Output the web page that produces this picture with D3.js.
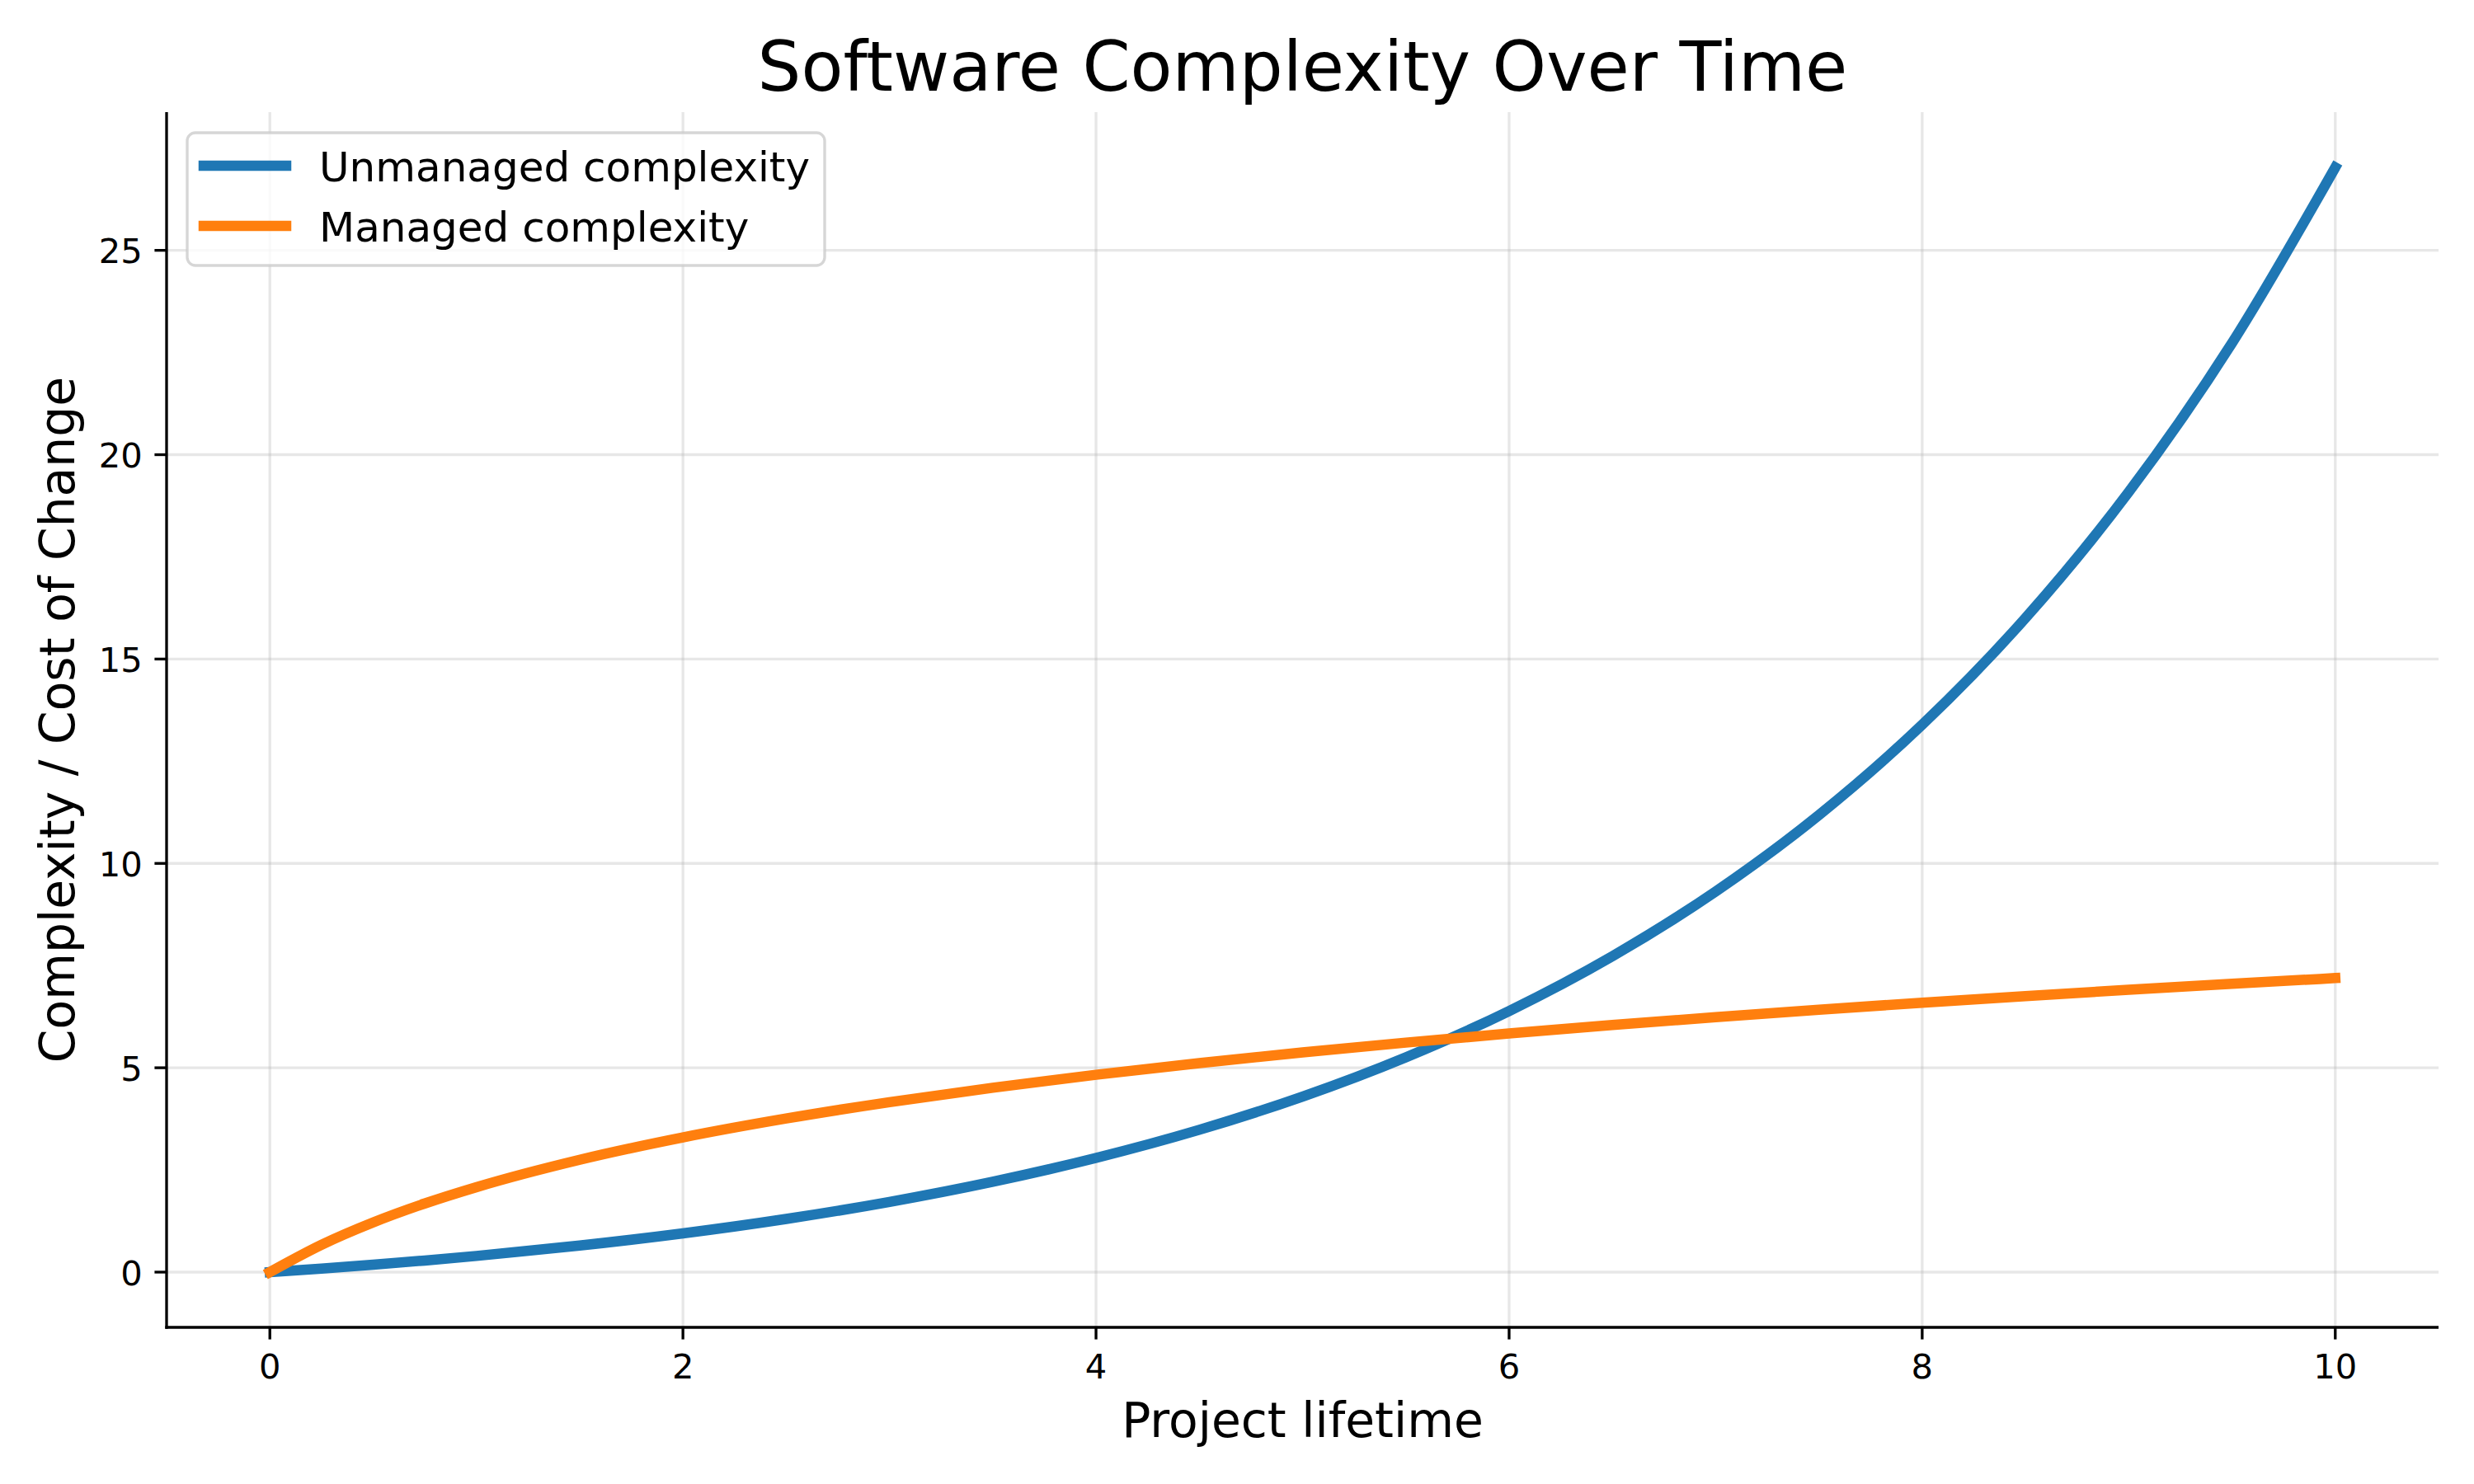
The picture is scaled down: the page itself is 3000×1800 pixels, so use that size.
<!DOCTYPE html>
<html>
<head>
<meta charset="utf-8">
<script src="https://cdn.jsdelivr.net/npm/d3@7/dist/d3.min.js"></script>
<style>
  html, body { margin: 0; padding: 0; background: #ffffff; }
  svg { display: block; }
  text { font-family: "DejaVu Sans", sans-serif; fill: #000; }
</style>
</head>
<body>
<svg id="chart" width="3000" height="1800"></svg>
<script>
// ---- data ----
const lifetime = [0, 0.25, 0.5, 0.75, 1, 1.5, 2, 2.5, 3, 3.5, 4, 4.5, 5, 5.5, 6, 6.5, 7, 7.5, 8, 8.5, 9, 9.5, 10];
const unmanaged = [0, 0.087, 0.181, 0.284, 0.396, 0.649, 0.948, 1.301, 1.718, 2.211, 2.794, 3.482, 4.294, 5.255, 6.389, 7.729, 9.312, 11.182, 13.392, 16.003, 19.086, 22.73, 27.03];
const managed = [0, 0.669, 1.216, 1.679, 2.079, 2.749, 3.296, 3.758, 4.159, 4.512, 4.828, 5.114, 5.375, 5.615, 5.838, 6.045, 6.238, 6.420, 6.592, 6.754, 6.908, 7.054, 7.194];
const seriesNames = ["Unmanaged complexity", "Managed complexity"];
const seriesColors = ["#1f77b4", "#ff7f0e"];
const xTicks = [0, 2, 4, 6, 8, 10];
const yTicks = [0, 5, 10, 15, 20, 25];
const titleText = "Software Complexity Over Time";
const xLabelText = "Project lifetime";
const yLabelText = "Complexity / Cost of Change";

// ---- layout ----
const svg = d3.select("#chart");
const L = 202, R = 2957, T = 136, B = 1610;
const x = d3.scaleLinear().domain([-0.5, 10.5]).range([L, R]);
const yMax = d3.max(unmanaged);
const pad = yMax * 0.05;
const y = d3.scaleLinear().domain([-pad, yMax + pad]).range([B, T]);

const lw = 3.33;   // 0.8pt at 300dpi
const tickLen = 14.6;

// grid
const grid = svg.append("g");
grid.selectAll("line.gx").data(xTicks).join("line")
  .attr("x1", d => x(d)).attr("x2", d => x(d))
  .attr("y1", T).attr("y2", B)
  .attr("stroke", "#b0b0b0").attr("stroke-opacity", 0.3).attr("stroke-width", lw);
grid.selectAll("line.gy").data(yTicks).join("line")
  .attr("x1", L).attr("x2", R)
  .attr("y1", d => y(d)).attr("y2", d => y(d))
  .attr("stroke", "#b0b0b0").attr("stroke-opacity", 0.3).attr("stroke-width", lw);

// lines
const series = [unmanaged, managed];
const clip = svg.append("clipPath").attr("id", "clip").append("rect")
  .attr("x", L).attr("y", T).attr("width", R - L).attr("height", B - T);
const line = d3.line().x((d, i) => x(lifetime[i])).y(d => y(d)).curve(d3.curveMonotoneX);
svg.append("g").attr("clip-path", "url(#clip)")
  .selectAll("path").data(series).join("path")
  .attr("d", d => line(d))
  .attr("fill", "none")
  .attr("stroke", (d, i) => seriesColors[i])
  .attr("stroke-width", 12.5)
  .attr("stroke-linecap", "square")
  .attr("stroke-linejoin", "round");

// spines
svg.append("line").attr("x1", L).attr("x2", L).attr("y1", T).attr("y2", B + lw / 2)
  .attr("stroke", "#000").attr("stroke-width", lw);
svg.append("line").attr("x1", L - lw / 2).attr("x2", R).attr("y1", B).attr("y2", B)
  .attr("stroke", "#000").attr("stroke-width", lw);

// x ticks
const gx = svg.append("g");
gx.selectAll("line").data(xTicks).join("line")
  .attr("x1", d => x(d)).attr("x2", d => x(d))
  .attr("y1", B).attr("y2", B + tickLen)
  .attr("stroke", "#000").attr("stroke-width", lw);
gx.selectAll("text").data(xTicks).join("text")
  .attr("x", d => x(d)).attr("y", 1671.5)
  .attr("text-anchor", "middle")
  .attr("font-size", 41.67)
  .text(d => d);

// y ticks
const gy = svg.append("g");
gy.selectAll("line").data(yTicks).join("line")
  .attr("x1", L - tickLen).attr("x2", L)
  .attr("y1", d => y(d)).attr("y2", d => y(d))
  .attr("stroke", "#000").attr("stroke-width", lw);
gy.selectAll("text").data(yTicks).join("text")
  .attr("x", L - tickLen - 14.6).attr("y", d => y(d) + 15.5)
  .attr("text-anchor", "end")
  .attr("font-size", 41.67)
  .text(d => d);

// title & labels
svg.append("text").attr("x", (L + R) / 2).attr("y", 110)
  .attr("text-anchor", "middle").attr("font-size", 83.33).text(titleText);
svg.append("text").attr("x", (L + R) / 2).attr("y", 1742.5)
  .attr("text-anchor", "middle").attr("font-size", 58.33).text(xLabelText);
svg.append("text")
  .attr("transform", `translate(90, ${(T + B) / 2}) rotate(-90)`)
  .attr("text-anchor", "middle").attr("font-size", 58.33).text(yLabelText);

// legend
const lg = svg.append("g");
lg.append("rect")
  .attr("x", 227).attr("y", 161).attr("width", 773).attr("height", 161)
  .attr("rx", 10).attr("ry", 10)
  .attr("fill", "#ffffff").attr("fill-opacity", 0.8)
  .attr("stroke", "#cccccc").attr("stroke-opacity", 0.8).attr("stroke-width", lw);
const rowsY = [201, 274];
lg.selectAll("line").data(seriesNames).join("line")
  .attr("x1", 247).attr("x2", 347)
  .attr("y1", (d, i) => rowsY[i]).attr("y2", (d, i) => rowsY[i])
  .attr("stroke", (d, i) => seriesColors[i])
  .attr("stroke-width", 12.5)
  .attr("stroke-linecap", "square");
lg.selectAll("text").data(seriesNames).join("text")
  .attr("x", 387).attr("y", (d, i) => rowsY[i] + 19)
  .attr("font-size", 50)
  .text(d => d);
</script>
</body>
</html>
